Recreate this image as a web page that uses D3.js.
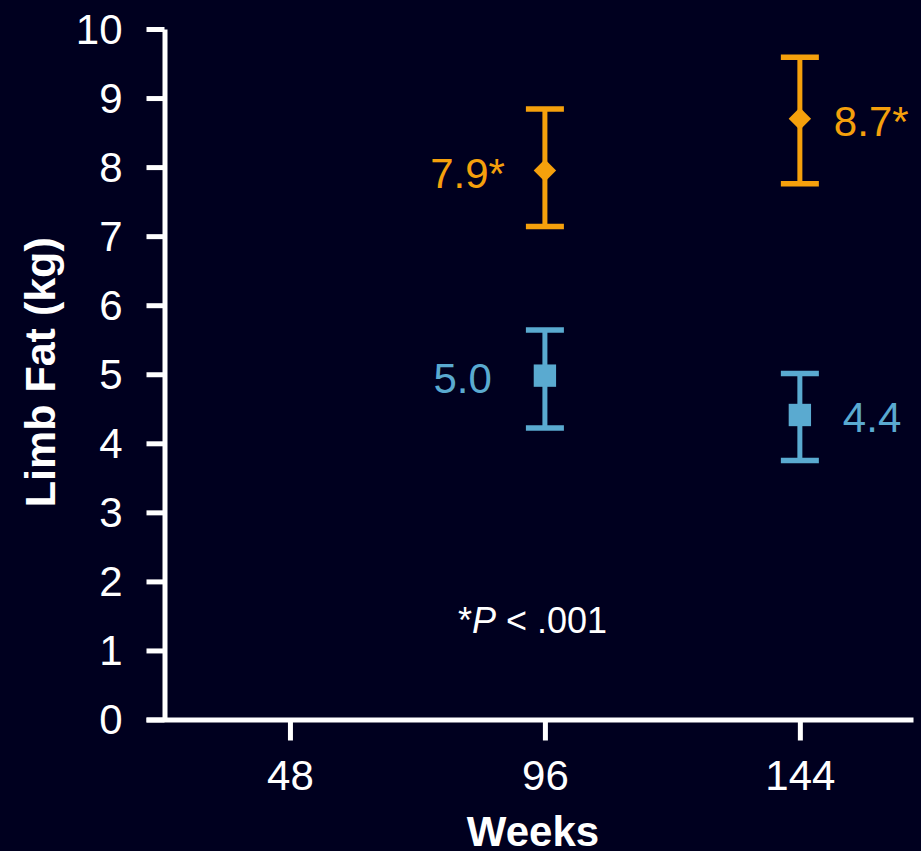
<!DOCTYPE html>
<html>
<head>
<meta charset="utf-8">
<script src="https://cdn.jsdelivr.net/npm/d3@7"></script>
<style>
  html, body { margin: 0; padding: 0; background: #00001f; }
  svg { display: block; font-family: Arial, "Liberation Sans", sans-serif; }
</style>
</head>
<body>
<div class="chart-container"></div>
<script>
const totalWidth = 921;
const totalHeight = 851;

// data
const weeks = [48, 96, 144];
const orangeWeeks = [96, 144];
const orangeMean = [7.95, 8.7];
const orangeLow = [7.14, 7.76];
const orangeHigh = [8.84, 9.59];
const orangeLabels = ['7.9*', '8.7*'];

const blueWeeks = [96, 144];
const blueMean = [4.98, 4.41];
const blueLow = [4.22, 3.75];
const blueHigh = [5.64, 5.01];
const blueLabels = ['5.0', '4.4'];

const yTicks = [0, 1, 2, 3, 4, 5, 6, 7, 8, 9, 10];

const orange = '#f5a00c';
const blue = '#5aaad0';
const white = '#ffffff';

const svg = d3.select('.chart-container')
    .append('svg')
    .attr('width', totalWidth)
    .attr('height', totalHeight);

svg.append('rect').attr('width', totalWidth).attr('height', totalHeight).attr('fill', '#00001f');

const scaleY = d3.scaleLinear()
    .domain([0, 10])
    .range([719.5, 29]);

// axis line runs past the outer ticks on both sides
const scaleX = d3.scaleLinear()
    .domain([20.9, 165.3])
    .range([146, 913]);

const xAxis = svg.append('g')
    .attr('class', 'horizontal-axis')
    .attr('transform', `translate(0,${scaleY(0)})`)
    .call(d3.axisBottom(scaleX).tickValues(weeks).tickSize(21).tickSizeOuter(0).tickPadding(20));

const yAxis = svg.append('g')
    .attr('class', 'vertical-axis')
    .attr('transform', 'translate(164.5,0)')
    .call(d3.axisLeft(scaleY).tickValues(yTicks).tickSize(18).tickSizeOuter(0).tickPadding(24));

[xAxis, yAxis].forEach(ax => {
  ax.select('.domain').attr('stroke', white).attr('stroke-width', 5);
  ax.selectAll('.tick line').attr('stroke', white).attr('stroke-width', 5);
  ax.selectAll('.tick text')
      .attr('fill', white)
      .attr('font-size', 42)
      .attr('font-family', 'Arial, "Liberation Sans", sans-serif');
});
yAxis.selectAll('.tick text').attr('dy', '0.34em');

// axis titles
svg.append('text')
    .attr('transform', `translate(55,${(scaleY(0) + scaleY(10)) / 2 - 2}) rotate(-90)`)
    .attr('text-anchor', 'middle')
    .attr('fill', white)
    .attr('font-weight', 'bold')
    .attr('font-size', 43)
    .text('Limb Fat (kg)');

svg.append('text')
    .attr('x', 533)
    .attr('y', 846)
    .attr('text-anchor', 'middle')
    .attr('fill', white)
    .attr('font-weight', 'bold')
    .attr('font-size', 42)
    .text('Weeks');

// error bars + markers
function drawSeries(xs, mean, low, high, color, shape) {
  const rows = xs.map((w, i) => ({w, m: mean[i], lo: low[i], hi: high[i]}));
  const g = svg.append('g');
  const capHalf = 19;
  g.selectAll('.stem').data(rows).enter().append('line')
      .attr('x1', d => scaleX(d.w)).attr('x2', d => scaleX(d.w))
      .attr('y1', d => scaleY(d.lo)).attr('y2', d => scaleY(d.hi))
      .attr('stroke', color).attr('stroke-width', 5);
  g.selectAll('.capTop').data(rows).enter().append('line')
      .attr('x1', d => scaleX(d.w) - capHalf).attr('x2', d => scaleX(d.w) + capHalf)
      .attr('y1', d => scaleY(d.hi)).attr('y2', d => scaleY(d.hi))
      .attr('stroke', color).attr('stroke-width', 5.5);
  g.selectAll('.capBot').data(rows).enter().append('line')
      .attr('x1', d => scaleX(d.w) - capHalf).attr('x2', d => scaleX(d.w) + capHalf)
      .attr('y1', d => scaleY(d.lo)).attr('y2', d => scaleY(d.lo))
      .attr('stroke', color).attr('stroke-width', 5.5);
  const sym = shape === 'diamond'
      ? d3.symbol().type(d3.symbolDiamond2).size(320)
      : d3.symbol().type(d3.symbolSquare).size(500);
  g.selectAll('.marker').data(rows).enter().append('path')
      .attr('transform', d => `translate(${scaleX(d.w)},${scaleY(d.m)})`)
      .attr('d', sym)
      .attr('fill', color);
}

drawSeries(orangeWeeks, orangeMean, orangeLow, orangeHigh, orange, 'diamond');
drawSeries(blueWeeks, blueMean, blueLow, blueHigh, blue, 'square');

// value labels: first point left of its bar, second to the right
function drawLabels(xs, mean, labels, color, leftGap, rightGap) {
  svg.append('g').selectAll('text')
      .data(xs.map((w, i) => ({w, m: mean[i], t: labels[i], i})))
      .enter().append('text')
      .attr('x', d => d.i === 0 ? scaleX(d.w) - leftGap : scaleX(d.w) + rightGap)
      .attr('y', d => scaleY(d.m))
      .attr('dy', '0.41em')
      .attr('text-anchor', d => d.i === 0 ? 'end' : 'start')
      .attr('fill', color)
      .attr('font-size', 42)
      .text(d => d.t);
}

drawLabels(orangeWeeks, orangeMean, orangeLabels, orange, 40, 34);
drawLabels(blueWeeks, blueMean, blueLabels, blue, 53, 43);

// footnote
const note = svg.append('text')
    .attr('x', 458)
    .attr('y', 633)
    .attr('fill', white)
    .attr('font-size', 36);
note.append('tspan').text('*');
note.append('tspan').attr('font-style', 'italic').text('P');
note.append('tspan').text(' < .001');
</script>
</body>
</html>
